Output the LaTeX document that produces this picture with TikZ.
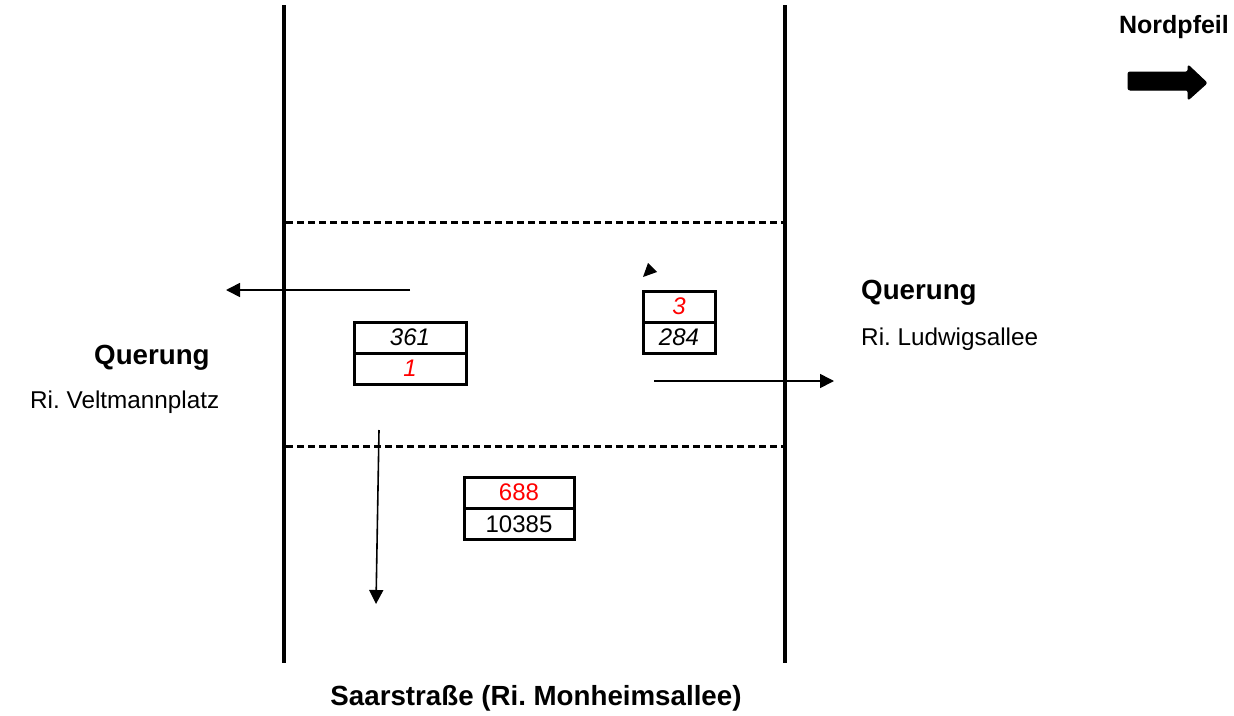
\documentclass[tikz,border=0pt]{standalone}
\usepackage{fontspec}
\setmainfont{Liberation Sans}
\frenchspacing
\usetikzlibrary{arrows.meta}
\definecolor{countred}{RGB}{255,0,0}
\tikzset{
  curb/.style={line width=4pt},
  stopline/.style={line width=3pt, dash pattern=on 7pt off 4pt},
  flow/.style={line width=1.6pt, -{Triangle[length=14pt,width=14pt]}},
  cell/.style={draw, line width=3pt, rectangle, minimum height=31pt, inner sep=0pt, font=\fontsize{24}{24}\selectfont},
  lbl/.style={inner sep=0pt, anchor=base west, font=\fontsize{24.3}{24}\selectfont},
  title/.style={inner sep=0pt, font=\fontsize{27.7}{28}\bfseries\selectfont}
}
\begin{document}
\begin{tikzpicture}[x=1pt,y=-1pt]
\useasboundingbox (0,0) rectangle (1234,715);

% road edges
\coordinate (ltop) at (284,5);
\coordinate (lbot) at (284,663);
\coordinate (rtop) at (785,5);
\coordinate (rbot) at (785,663);
\draw[curb] (ltop) -- (lbot);
\draw[curb] (rtop) -- (rbot);

% crossing stop lines
\coordinate (s1l) at (286,222);
\coordinate (s1r) at (783,222);
\coordinate (s2l) at (286,446);
\coordinate (s2r) at (783,446);
\draw[stopline] (s1l) -- (s1r);
\draw[stopline] (s2l) -- (s2r);

% flow arrows
\coordinate (w0) at (410,290);
\coordinate (w1) at (226,290);
\coordinate (e0) at (654,381);
\coordinate (e1) at (834,381);
\coordinate (d0) at (379,430);
\coordinate (d1) at (376,604);
\draw[flow] (w0) -- (w1);
\draw[flow] (e0) -- (e1);
\draw[flow] (d0) -- (d1);

% small arrow head
\fill (648,263) -- (657,272) -- (643,277) -- cycle;

% count boxes
\node[cell, minimum width=112pt] (a1) at (410,337.5) {\itshape 361};
\node[cell, minimum width=112pt, text=countred] (a2) at (410,368.5) {\itshape 1};
\node[cell, minimum width=72pt, text=countred] (b1) at (679,306.5) {\itshape 3};
\node[cell, minimum width=72pt] (b2) at (679,337.5) {\itshape 284};
\node[cell, minimum width=110pt, text=countred] (c1) at (519,492.5) {688};
\node[cell, minimum width=110pt] (c2) at (519,524) {10385};

% labels
\node[title, anchor=base west] (qw) at (94,364) {Querung};
\node[lbl] (rw) at (30,408) {Ri. Veltmannplatz};
\node[title, anchor=base west] (qe) at (861,299) {Querung};
\node[lbl] (re) at (861,345) {Ri. Ludwigsallee};
\node[title, anchor=base] (saar) at (536,705) {Saarstraße (Ri. Monheimsallee)};
\node[inner sep=0pt, anchor=base, font=\fontsize{25}{25}\bfseries\selectfont] (np) at (1174,33) {Nordpfeil};

% north arrow
\fill[line join=round, rounded corners=2pt, draw, line width=1pt]
  (1128,72) -- (1188,72) -- (1188,65) -- (1207,83) -- (1188,100) -- (1188,90) -- (1128,90) -- cycle;
\end{tikzpicture}
\end{document}
